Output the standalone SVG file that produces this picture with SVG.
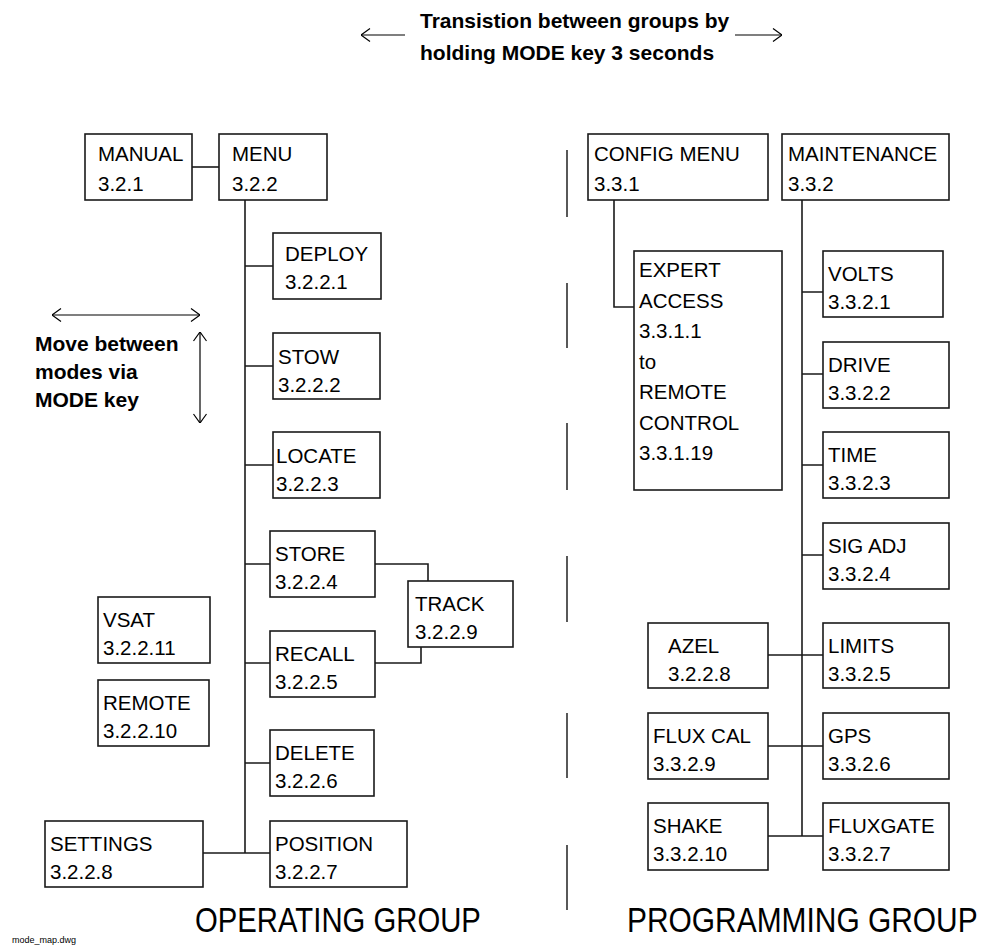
<svg xmlns="http://www.w3.org/2000/svg" width="986" height="947" viewBox="0 0 986 947">
<defs>
<marker id="ah" viewBox="0 0 10 14" refX="10" refY="7" markerWidth="10" markerHeight="14" markerUnits="userSpaceOnUse" orient="auto-start-reverse">
<path d="M1,0.5 L10,7 L1,13.5" fill="none" stroke="#000" stroke-width="1.2"/>
</marker>
<style>
.b{fill:#fff;stroke:#1a1a1a;stroke-width:1.6}
.t{font-family:"Liberation Sans",Arial,sans-serif;font-size:20.5px;fill:#000}
.h{font-family:"Liberation Sans",Arial,sans-serif;font-size:21px;font-weight:bold;fill:#000}
.g{font-family:"Liberation Sans",Arial,sans-serif;font-size:35px;fill:#000}
.c{fill:none;stroke:#1a1a1a;stroke-width:1.6}
.a{fill:none;stroke:#000;stroke-width:1.2}
.d{fill:none;stroke:#000;stroke-width:1.3}
</style>
</defs>
<rect width="986" height="947" fill="#fff"/>

<g id="header">
<line class="a" x1="361" y1="35" x2="405" y2="35" marker-start="url(#ah)"/>
<line class="a" x1="735" y1="35" x2="782" y2="35" marker-end="url(#ah)"/>
<text class="h" x="420" y="28">Transistion between groups by</text>
<text class="h" x="420" y="60">holding MODE key 3 seconds</text>
</g>

<g id="mode-key-note">
<line class="a" x1="52" y1="315" x2="200" y2="315" marker-start="url(#ah)" marker-end="url(#ah)"/>
<line class="a" x1="200" y1="332" x2="200" y2="423" marker-start="url(#ah)" marker-end="url(#ah)"/>
<text class="h" x="35" y="351">Move between</text>
<text class="h" x="35" y="379">modes via</text>
<text class="h" x="35" y="407">MODE key</text>
</g>

<g id="divider">
<path class="d" d="M567,150V217M567,283V348M567,423V490M567,556V622M567,713V778M567,845V910"/>
</g>

<g id="connectors">
<path class="c" d="M192,167H219"/>
<path class="c" d="M245,200V853"/>
<path class="c" d="M245,266H273M245,366H273M245,465H273M245,564H270M245,663H270M245,763H270M203,853H270"/>
<path class="c" d="M375,564H428V581"/>
<path class="c" d="M375,663H421V647"/>
<path class="c" d="M614,200V307H634"/>
<path class="c" d="M802,200V836"/>
<path class="c" d="M802,292H823M802,374H823M802,465H823M802,555H823"/>
<path class="c" d="M768,655H823M768,746H823M768,836H823"/>
</g>

<g id="manual"><rect class="b" x="85" y="134" width="107" height="66"/><text class="t" x="98" y="161">MANUAL</text><text class="t" x="98" y="191">3.2.1</text></g>
<g id="menu"><rect class="b" x="219" y="134" width="108" height="66"/><text class="t" x="232" y="161">MENU</text><text class="t" x="232" y="191">3.2.2</text></g>
<g id="deploy"><rect class="b" x="273" y="233" width="108" height="66"/><text class="t" x="285" y="261">DEPLOY</text><text class="t" x="285" y="289">3.2.2.1</text></g>
<g id="stow"><rect class="b" x="273" y="333" width="107" height="66"/><text class="t" x="278" y="364">STOW</text><text class="t" x="278" y="392">3.2.2.2</text></g>
<g id="locate"><rect class="b" x="273" y="432" width="107" height="66"/><text class="t" x="276" y="463">LOCATE</text><text class="t" x="276" y="491">3.2.2.3</text></g>
<g id="store"><rect class="b" x="270" y="531" width="105" height="66"/><text class="t" x="275" y="561">STORE</text><text class="t" x="275" y="589">3.2.2.4</text></g>
<g id="track"><rect class="b" x="408" y="581" width="105" height="66"/><text class="t" x="415" y="611">TRACK</text><text class="t" x="415" y="639">3.2.2.9</text></g>
<g id="recall"><rect class="b" x="270" y="631" width="105" height="66"/><text class="t" x="275" y="661">RECALL</text><text class="t" x="275" y="689">3.2.2.5</text></g>
<g id="delete"><rect class="b" x="270" y="730" width="104" height="66"/><text class="t" x="275" y="760">DELETE</text><text class="t" x="275" y="788">3.2.2.6</text></g>
<g id="position"><rect class="b" x="270" y="821" width="137" height="66"/><text class="t" x="275" y="851">POSITION</text><text class="t" x="275" y="879">3.2.2.7</text></g>
<g id="settings"><rect class="b" x="45" y="821" width="158" height="66"/><text class="t" x="50" y="851">SETTINGS</text><text class="t" x="50" y="879">3.2.2.8</text></g>
<g id="vsat"><rect class="b" x="98" y="597" width="112" height="66"/><text class="t" x="103" y="627">VSAT</text><text class="t" x="103" y="655">3.2.2.11</text></g>
<g id="remote"><rect class="b" x="98" y="680" width="111" height="66"/><text class="t" x="103" y="710">REMOTE</text><text class="t" x="103" y="738">3.2.2.10</text></g>

<g id="config-menu"><rect class="b" x="588" y="134" width="180" height="66"/><text class="t" x="594" y="161">CONFIG MENU</text><text class="t" x="594" y="191">3.3.1</text></g>
<g id="maintenance"><rect class="b" x="782" y="134" width="167" height="66"/><text class="t" x="788" y="161">MAINTENANCE</text><text class="t" x="788" y="191">3.3.2</text></g>
<g id="expert-access"><rect class="b" x="634" y="251" width="148" height="239"/>
<text class="t" x="639" y="277">EXPERT</text><text class="t" x="639" y="307.5">ACCESS</text><text class="t" x="639" y="338">3.3.1.1</text><text class="t" x="639" y="368.5">to</text><text class="t" x="639" y="399">REMOTE</text><text class="t" x="639" y="429.5">CONTROL</text><text class="t" x="639" y="460">3.3.1.19</text></g>
<g id="volts"><rect class="b" x="823" y="251" width="120" height="66"/><text class="t" x="828" y="281">VOLTS</text><text class="t" x="828" y="309">3.3.2.1</text></g>
<g id="drive"><rect class="b" x="823" y="342" width="126" height="66"/><text class="t" x="828" y="372">DRIVE</text><text class="t" x="828" y="400">3.3.2.2</text></g>
<g id="time"><rect class="b" x="823" y="432" width="126" height="66"/><text class="t" x="828" y="462">TIME</text><text class="t" x="828" y="490">3.3.2.3</text></g>
<g id="sig-adj"><rect class="b" x="823" y="523" width="126" height="66"/><text class="t" x="828" y="553">SIG ADJ</text><text class="t" x="828" y="581">3.3.2.4</text></g>
<g id="limits"><rect class="b" x="823" y="623" width="126" height="65"/><text class="t" x="828" y="653">LIMITS</text><text class="t" x="828" y="681">3.3.2.5</text></g>
<g id="gps"><rect class="b" x="823" y="713" width="126" height="66"/><text class="t" x="828" y="743">GPS</text><text class="t" x="828" y="771">3.3.2.6</text></g>
<g id="fluxgate"><rect class="b" x="823" y="803" width="126" height="67"/><text class="t" x="828" y="833">FLUXGATE</text><text class="t" x="828" y="861">3.3.2.7</text></g>
<g id="azel"><rect class="b" x="648" y="623" width="120" height="65"/><text class="t" x="668" y="653">AZEL</text><text class="t" x="668" y="681">3.2.2.8</text></g>
<g id="flux-cal"><rect class="b" x="648" y="713" width="120" height="66"/><text class="t" x="653" y="743">FLUX CAL</text><text class="t" x="653" y="771">3.3.2.9</text></g>
<g id="shake"><rect class="b" x="648" y="803" width="120" height="67"/><text class="t" x="653" y="833">SHAKE</text><text class="t" x="653" y="861">3.3.2.10</text></g>

<g id="group-labels">
<text class="g" transform="translate(195,932) scale(0.837,1)">OPERATING GROUP</text>
<text class="g" transform="translate(627,932) scale(0.855,1)">PROGRAMMING GROUP</text>
<text x="12" y="943" font-family="Liberation Sans, Arial, sans-serif" font-size="9">mode_map.dwg</text>
</g>
</svg>
